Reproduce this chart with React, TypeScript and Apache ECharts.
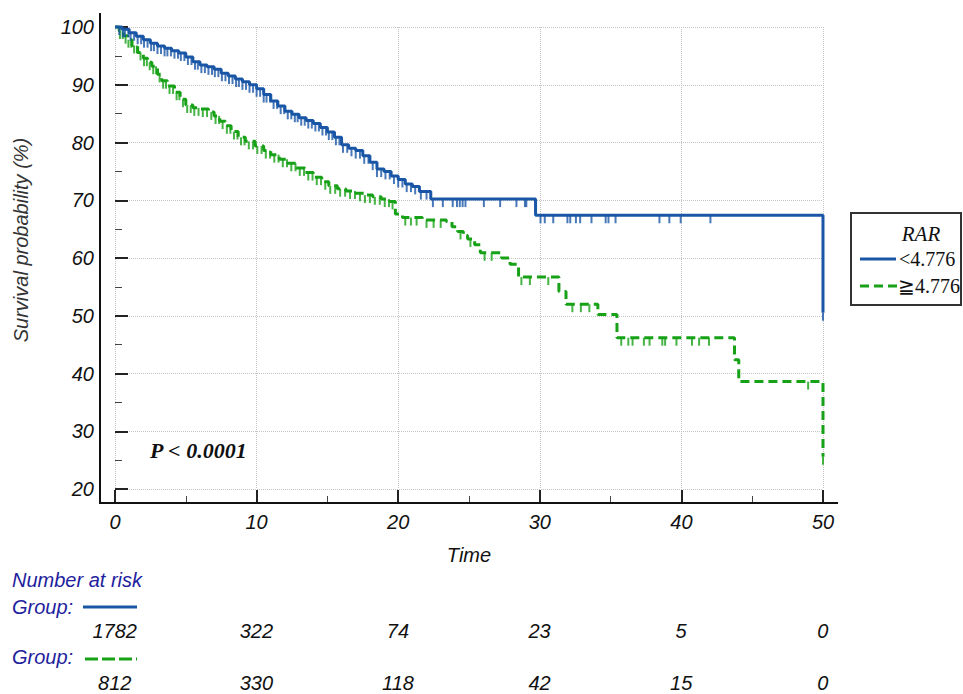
import React, { useEffect, useRef } from "react";
import * as echarts from "echarts";

const BLUE = "#1a56a6";
const GREEN = "#17a117";
const SANS = "'Liberation Sans', Arial, sans-serif";
const SERIF = "'Liberation Serif', 'Times New Roman', serif";

const blueTime = [0, 0.5, 1, 1.5, 2, 2.5, 3, 3.5, 4, 4.5, 5, 5.5, 6, 6.5, 7, 7.5, 8, 8.5, 9, 9.5, 10, 10.5, 11, 11.5, 12, 12.5, 13, 13.5, 14, 14.5, 15, 15.5, 16, 16.5, 17, 17.5, 18, 18.5, 19, 19.5, 20, 20.5, 21, 21.5, 22.3, 29.7, 50];
const blueSurv = [100, 99.6, 99.0, 98.4, 97.8, 97.2, 96.7, 96.3, 95.9, 95.5, 94.8, 94.0, 93.4, 93.1, 92.7, 92.0, 91.5, 91.0, 90.5, 90.0, 89.3, 88.3, 87.2, 86.3, 85.4, 84.9, 84.3, 83.8, 83.3, 82.6, 81.8, 80.9, 79.6, 79.0, 78.6, 77.7, 76.6, 75.4, 75.0, 74.2, 73.6, 72.8, 72.4, 71.5, 70.2, 67.4, 50.5];

const greenTime = [0, 0.3, 0.6, 0.9, 1.2, 1.6, 2, 2.3, 2.6, 3, 3.3, 3.7, 4.2, 4.6, 5, 5.5, 6, 6.6, 7, 7.4, 7.8, 8.2, 8.7, 9.2, 9.9, 10.5, 11, 11.6, 12.2, 12.8, 13.4, 14, 14.6, 15.1, 15.7, 16.3, 17, 17.6, 18.2, 18.8, 19.4, 19.8, 20.3, 21.7, 23.4, 23.8, 24.2, 24.6, 24.9, 25.4, 25.8, 27.3, 27.9, 28.5, 31.35, 31.85, 34.1, 35.45, 43.75, 44.05, 50];
const greenSurv = [100, 99.3, 98.5, 97.8, 96.8, 95.6, 94.6, 93.9, 93.2, 91.8, 90.7, 89.8, 88.7, 87.5, 86.5, 86.0, 85.8, 85.3, 84.6, 83.7, 82.9, 81.9, 80.9, 80.2, 79.4, 78.6, 77.9, 77.1, 76.4, 75.6, 74.8, 74.0, 73.2, 72.5, 72.0, 71.6, 71.2, 70.9, 70.6, 70.2, 69.8, 67.6, 67.0, 66.6, 66.3, 65.4, 64.6, 63.9, 63.3, 62.3, 60.9, 60.0, 58.9, 56.7, 54.2, 52.0, 50.2, 46.2, 42.4, 38.6, 25.6];

const blueCensor = [0.3, 0.55, 0.7, 0.95, 1.1, 1.35, 1.6, 1.85, 2.05, 2.3, 2.55, 2.75, 3.0, 3.25, 3.5, 3.7, 3.95, 4.2, 4.45, 4.65, 4.9, 5.15, 5.4, 5.65, 5.85, 6.1, 6.35, 6.6, 6.85, 7.05, 7.3, 7.55, 7.8, 8.05, 8.3, 8.55, 8.75, 9.0, 9.25, 9.5, 9.75, 10.0, 10.25, 10.5, 10.7, 10.95, 11.2, 11.45, 11.7, 11.95, 12.2, 12.45, 12.7, 12.9, 13.15, 13.4, 13.65, 13.9, 14.15, 14.4, 14.65, 14.9, 15.1, 15.35, 15.6, 15.85, 16.1, 16.4, 16.7, 17.0, 17.3, 17.6, 17.9, 18.2, 18.5, 18.8, 19.1, 19.4, 19.7, 20.0, 20.3, 20.6, 20.9, 21.2, 21.6, 22.0, 22.45, 23.15, 23.85, 24.15, 24.35, 24.55, 24.75, 26.05, 27.2, 28.35, 28.95, 29.05, 30.05, 30.35, 30.95, 31.95, 32.15, 32.55, 32.85, 33.65, 34.65, 34.85, 35.35, 38.45, 39.15, 39.95, 42.05, 50];
const greenCensor = [0.35, 0.55, 0.75, 0.95, 1.15, 1.35, 1.55, 1.8, 2.05, 2.25, 2.45, 2.7, 2.9, 3.15, 3.4, 3.6, 3.85, 4.1, 4.35, 4.55, 4.8, 5.1, 5.35, 5.6, 5.9, 6.2, 6.5, 6.8, 7.1, 7.35, 7.6, 7.9, 8.15, 8.4, 8.65, 8.9, 9.15, 9.45, 9.75, 10.05, 10.35, 10.65, 10.95, 11.25, 11.55, 11.85, 12.15, 12.45, 12.75, 13.05, 13.35, 13.65, 13.95, 14.25, 14.55, 14.85, 15.2, 15.55, 15.9, 16.25, 16.6, 16.95, 17.3, 17.65, 18.0, 18.35, 18.7, 19.05, 19.35, 19.6, 20.5, 20.9, 21.3, 22.0, 22.5, 23.0, 24.4, 25.1, 26.1, 26.6, 28.7, 29.3, 30.6, 32.3, 32.9, 33.5, 35.75, 36.25, 36.55, 37.35, 37.75, 38.65, 38.85, 39.65, 40.75, 41.25, 41.95, 48.95, 50];

const riskTimes = [0, 10, 20, 30, 40, 50];
const riskBlue = [1782, 322, 74, 23, 5, 0];
const riskGreen = [812, 330, 118, 42, 15, 0];

function survAt(times: number[], surv: number[], t: number) {
  let v = surv[0];
  for (let i = 0; i < times.length; i++) {
    if (times[i] <= t) v = surv[i];
  }
  return v;
}

export default function App() {
  const ref = useRef<HTMLDivElement>(null);
  useEffect(() => {
    if (!ref.current) return;
    const chart = echarts.init(ref.current, undefined, { renderer: "svg" });
    const axisLabelStyle = { fontFamily: SANS, fontStyle: "italic" as const, fontSize: 20, color: "#111" };
    const riskLabel = {
      show: true, position: [0, 0], align: "center", verticalAlign: "middle",
      formatter: (p: any) => String(p.value[2]),
      fontFamily: SANS, fontStyle: "italic", fontSize: 20, color: "#111", opacity: 1, textBorderWidth: 0,
    };
    chart.setOption({
      animation: false,
      backgroundColor: "#ffffff",
      grid: [
        { left: 115, right: 140, top: 27, bottom: 205 },
        { left: 115, right: 140, top: 631, height: 52 },
      ],
      xAxis: [
        {
          type: "value", gridIndex: 0, min: 0, max: 50, interval: 10, offset: 14,
          axisLine: { show: false },
          axisTick: { show: true, inside: true, length: 13, lineStyle: { color: "#222", width: 2 } },
          minorTick: { show: true, splitNumber: 2, length: 7, lineStyle: { color: "#444", width: 1 } },
          axisLabel: { ...axisLabelStyle, margin: 9 },
          splitLine: { show: true, lineStyle: { color: "#c4c4c4", type: "dotted", width: 1 } },
          name: "Time", nameLocation: "middle", nameGap: 42,
          nameTextStyle: { fontFamily: SANS, fontStyle: "italic", fontSize: 20, color: "#111" },
        },
        { type: "value", gridIndex: 1, min: 0, max: 50, show: false },
      ],
      yAxis: [
        {
          type: "value", gridIndex: 0, min: 20, max: 100, interval: 10, offset: 15,
          axisLine: { show: false },
          axisTick: { show: true, inside: true, length: 13, lineStyle: { color: "#222", width: 2 } },
          minorTick: { show: true, splitNumber: 2, length: 7, lineStyle: { color: "#444", width: 1 } },
          axisLabel: { ...axisLabelStyle, margin: 6 },
          splitLine: { show: true, lineStyle: { color: "#c4c4c4", type: "dotted", width: 1 } },
        },
        { type: "value", gridIndex: 1, min: 0, max: 1, show: false },
      ],
      series: [
        {
          name: "≧4.776", type: "line", xAxisIndex: 0, yAxisIndex: 0, step: "end",
          data: greenTime.map((t, i) => [t, greenSurv[i]]),
          symbol: "none", clip: false, z: 3,
          lineStyle: { color: GREEN, width: 3, type: [9, 5] },
        },
        {
          name: "≧4.776 censored", type: "scatter", xAxisIndex: 0, yAxisIndex: 0,
          data: greenCensor.map((t) => [t, survAt(greenTime, greenSurv, t)]),
          symbol: "rect", symbolSize: [2, 8], symbolOffset: [0, 4], clip: false, z: 3,
          itemStyle: { color: GREEN },
        },
        {
          name: "<4.776", type: "line", xAxisIndex: 0, yAxisIndex: 0, step: "end",
          data: blueTime.map((t, i) => [t, blueSurv[i]]),
          symbol: "none", clip: false, z: 4,
          lineStyle: { color: BLUE, width: 3 },
        },
        {
          name: "<4.776 censored", type: "scatter", xAxisIndex: 0, yAxisIndex: 0,
          data: blueCensor.map((t) => [t, survAt(blueTime, blueSurv, t)]),
          symbol: "rect", symbolSize: [2, 8], symbolOffset: [0, 4], clip: false, z: 4,
          itemStyle: { color: BLUE },
        },
        {
          name: "risk1", type: "scatter", xAxisIndex: 1, yAxisIndex: 1,
          data: riskTimes.map((t, i) => [t, 1, riskBlue[i]]),
          symbol: "circle", symbolSize: 0.5, itemStyle: { color: "#ffffff" }, clip: false,
          label: riskLabel,
        },
        {
          name: "risk2", type: "scatter", xAxisIndex: 1, yAxisIndex: 1,
          data: riskTimes.map((t, i) => [t, 0, riskGreen[i]]),
          symbol: "circle", symbolSize: 0.5, itemStyle: { color: "#ffffff" }, clip: false,
          label: riskLabel,
        },
      ],
      graphic: [
        { type: "line", z: 10, shape: { x1: 100, y1: 503, x2: 838, y2: 503 }, style: { stroke: "#111", lineWidth: 2 } },
        { type: "line", z: 10, shape: { x1: 100, y1: 13, x2: 100, y2: 504 }, style: { stroke: "#111", lineWidth: 2 } },
        {
          type: "text", x: 21, y: 240, rotation: Math.PI / 2, z: 10,
          style: { text: "Survival probability (%)", fontFamily: SANS, fontStyle: "italic", fontSize: 20, fill: "#333", align: "center", verticalAlign: "middle" },
        },
        {
          type: "text", x: 150, y: 450, z: 10,
          style: { text: "P < 0.0001", fontFamily: SERIF, fontStyle: "italic", fontWeight: "bold", fontSize: 22, fill: "#111", align: "left", verticalAlign: "middle" },
        },
        { type: "rect", z: 10, shape: { x: 851, y: 213, width: 110, height: 92 }, style: { fill: "#fff", stroke: "#333", lineWidth: 2 } },
        {
          type: "text", x: 921, y: 234, z: 11,
          style: { text: "RAR", fontFamily: SERIF, fontStyle: "italic", fontSize: 21, fill: "#111", align: "center", verticalAlign: "middle" },
        },
        { type: "line", z: 11, shape: { x1: 860, y1: 259, x2: 896, y2: 259 }, style: { stroke: BLUE, lineWidth: 3 } },
        {
          type: "text", x: 899, y: 259, z: 11,
          style: { text: "<4.776", fontFamily: SERIF, fontSize: 20, fill: "#111", align: "left", verticalAlign: "middle" },
        },
        { type: "line", z: 11, shape: { x1: 860, y1: 286, x2: 897, y2: 286 }, style: { stroke: GREEN, lineWidth: 3, lineDash: [9, 5] } },
        {
          type: "text", x: 898, y: 286, z: 11,
          style: { text: "≧4.776", fontFamily: SERIF, fontSize: 20, fill: "#111", align: "left", verticalAlign: "middle" },
        },
        {
          type: "text", x: 12, y: 580, z: 10,
          style: { text: "Number at risk", fontFamily: SANS, fontStyle: "italic", fontSize: 20, fill: "#1e1e9e", align: "left", verticalAlign: "middle" },
        },
        {
          type: "text", x: 12, y: 607, z: 10,
          style: { text: "Group:", fontFamily: SANS, fontStyle: "italic", fontSize: 20, fill: "#1e1e9e", align: "left", verticalAlign: "middle" },
        },
        { type: "line", z: 10, shape: { x1: 83, y1: 607, x2: 137, y2: 607 }, style: { stroke: BLUE, lineWidth: 3 } },
        {
          type: "text", x: 12, y: 657, z: 10,
          style: { text: "Group:", fontFamily: SANS, fontStyle: "italic", fontSize: 20, fill: "#1e1e9e", align: "left", verticalAlign: "middle" },
        },
        { type: "line", z: 10, shape: { x1: 85, y1: 659, x2: 137, y2: 659 }, style: { stroke: GREEN, lineWidth: 3, lineDash: [13, 4] } },
      ],
    });
    return () => chart.dispose();
  }, []);
  return <div ref={ref} style={{ width: 963, height: 694, position: "absolute", left: 0, top: 0 }} />;
}
